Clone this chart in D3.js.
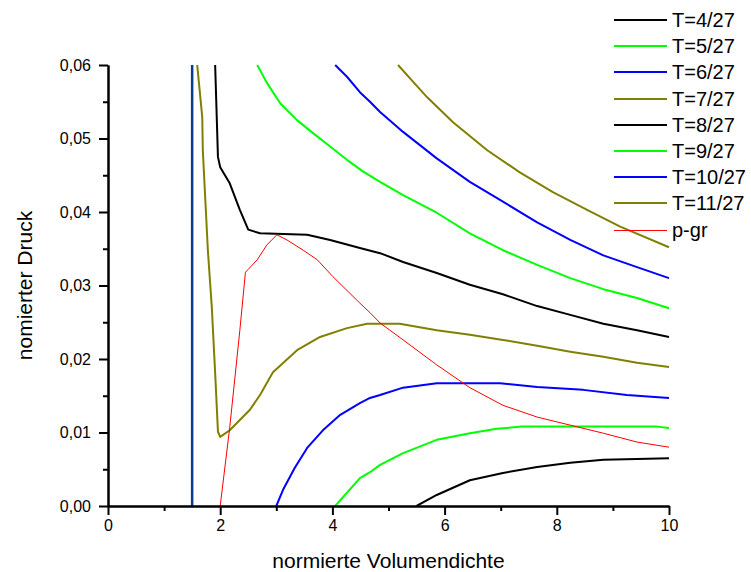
<!DOCTYPE html>
<html>
<head>
<meta charset="utf-8">
<script src="https://cdn.jsdelivr.net/npm/d3@7"></script>
<style>
  body { margin: 0; background: #fff; }
  text { font-family: "Liberation Sans", Arial, sans-serif; }
</style>
</head>
<body>
<div id="chart"></div>
<script>
// Data: [normierte Volumendichte, normierter Druck]
const t4 = [[5.5,0],[5.86,0.0015],[6.45,0.0035],[7.04,0.0045],[7.65,0.0053],[8.24,0.0059],[8.83,0.0063],[9.43,0.0064],[10,0.0065]];
const t5 = [[4.05,0],[4.49,0.0038],[4.67,0.0046],[4.85,0.0056],[5.26,0.0072],[5.86,0.009],[6.45,0.0099],[6.93,0.0105],[7.38,0.0108],[9.79,0.0108],[10,0.0106]];
const t6 = [[3.0,0],[3.12,0.0022],[3.33,0.0052],[3.55,0.0079],[3.83,0.0103],[4.14,0.0124],[4.49,0.014],[4.67,0.0147],[4.85,0.0151],[5.26,0.0161],[5.86,0.0167],[6.99,0.0167],[7.65,0.0162],[8.47,0.0158],[9.25,0.0151],[10,0.0147]];
const t7 = [[1.59,0.06],[1.68,0.0529],[1.69,0.0484],[1.78,0.0348],[1.85,0.0271],[1.91,0.0181],[1.96,0.0101],[2.0,0.0094],[2.17,0.0103],[2.53,0.0131],[2.71,0.0151],[2.94,0.0182],[3.37,0.0212],[3.78,0.023],[4.26,0.0242],[4.62,0.0248],[5.2,0.0248],[5.86,0.0239],[6.45,0.0233],[7.04,0.0226],[7.65,0.0218],[8.24,0.021],[8.83,0.0203],[9.43,0.0195],[10,0.0189]];
const t8 = [[1.91,0.06],[1.96,0.0475],[2.0,0.0461],[2.17,0.0439],[2.35,0.0403],[2.5,0.0376],[2.71,0.0371],[3.55,0.0369],[3.96,0.0362],[4.49,0.0351],[4.85,0.0344],[5.26,0.0332],[5.86,0.0317],[6.45,0.0301],[7.04,0.0288],[7.65,0.0272],[8.24,0.026],[8.83,0.0248],[9.43,0.0239],[10,0.023]];
const t9 = [[2.66,0.06],[2.83,0.0576],[3.07,0.0548],[3.37,0.0525],[3.66,0.0507],[3.96,0.0489],[4.26,0.0471],[4.55,0.0455],[4.85,0.0441],[5.26,0.0423],[5.86,0.0399],[6.45,0.0371],[7.04,0.0348],[7.65,0.0328],[8.24,0.031],[8.83,0.0295],[9.43,0.0283],[10,0.0269]];
const t10 = [[4.05,0.06],[4.26,0.0584],[4.49,0.0563],[4.67,0.055],[4.85,0.0536],[5.26,0.0509],[5.86,0.0473],[6.45,0.0441],[7.04,0.0414],[7.65,0.0386],[8.24,0.0362],[8.83,0.0341],[9.43,0.0325],[10,0.031]];
const t11 = [[5.17,0.06],[5.44,0.0577],[5.69,0.0556],[6.15,0.0522],[6.76,0.0484],[7.34,0.0454],[7.93,0.0427],[8.54,0.0403],[9.13,0.038],[10,0.0352]];
const pgr = [[2.0,0],[2.17,0.0107],[2.35,0.0239],[2.45,0.0318],[2.5,0.0322],[2.66,0.0335],[2.83,0.0355],[3.01,0.0369],[3.19,0.0362],[3.48,0.0348],[3.73,0.0335],[4.01,0.0312],[4.49,0.0276],[4.67,0.0263],[4.85,0.0249],[5.26,0.0226],[5.86,0.0192],[6.45,0.0161],[7.04,0.0137],[7.65,0.0121],[8.24,0.011],[8.83,0.0099],[9.43,0.0087],[10,0.008]];
const asymptote = [[1.5,0],[1.5,0.06]];

const labels = ["T=4/27","T=5/27","T=6/27","T=7/27","T=8/27","T=9/27","T=10/27","T=11/27","p-gr"];
const colors = ["#000000","#00ff00","#0000ff","#808000","#000000","#00ff00","#0000ff","#808000","#ff0000"];
const seriesData = [t4, t5, t6, t7, t8, t9, t10, t11, pgr];

const xMajor = [0, 2, 4, 6, 8, 10];
const xMinor = [1, 3, 5, 7, 9];
const yMajor = [0, 0.01, 0.02, 0.03, 0.04, 0.05, 0.06];
const yMinor = [0.005, 0.015, 0.025, 0.035, 0.045, 0.055];

// Dimensions
const dims = { width: 751, height: 572, left: 108, right: 669, top: 65, bottom: 506 };

const svg = d3.select("#chart").append("svg")
  .attr("width", dims.width).attr("height", dims.height)
  .style("display", "block");

const xScale = d3.scaleLinear().domain([0, 10]).range([dims.left, dims.right]);
const yScale = d3.scaleLinear().domain([0, 0.06]).range([dims.bottom, dims.top]);

svg.append("clipPath").attr("id", "clip")
  .append("rect").attr("x", dims.left).attr("y", dims.top - 1)
  .attr("width", dims.right - dims.left + 1).attr("height", dims.bottom - dims.top + 1);

const line = d3.line().x(d => xScale(d[0])).y(d => yScale(d[1]));
const plot = svg.append("g").attr("clip-path", "url(#clip)");

plot.append("path").datum(asymptote)
  .attr("d", line).attr("fill", "none")
  .attr("stroke", "#0a3c8c").attr("stroke-width", 2.5);

seriesData.forEach((s, i) => {
  plot.append("path").datum(s)
    .attr("d", line).attr("fill", "none")
    .attr("stroke", colors[i])
    .attr("stroke-width", i === 8 ? 1 : 2)
    .attr("stroke-linejoin", "round");
});

// Axes
const fmt = d => d3.format(".2f")(d).replace(".", ",");

svg.append("g").attr("transform", `translate(0,${dims.bottom})`)
  .call(d3.axisBottom(xScale).tickValues(xMajor).tickSize(9).tickSizeOuter(0).tickPadding(5));
svg.append("g").attr("transform", `translate(0,${dims.bottom})`)
  .call(d3.axisBottom(xScale).tickValues(xMinor).tickSize(5).tickSizeOuter(0).tickFormat(""));

svg.append("g").attr("transform", `translate(${dims.left},0)`)
  .call(d3.axisLeft(yScale).tickValues(yMajor).tickSize(9).tickSizeOuter(0).tickPadding(8).tickFormat(fmt));
svg.append("g").attr("transform", `translate(${dims.left},0)`)
  .call(d3.axisLeft(yScale).tickValues(yMinor).tickSize(5).tickSizeOuter(0).tickFormat(""));

svg.selectAll(".domain").attr("stroke", "#000").attr("stroke-width", 2);
svg.selectAll(".tick line").attr("stroke", "#000").attr("stroke-width", 2);
svg.selectAll(".tick text")
  .attr("font-family", "'Liberation Sans', Arial, sans-serif")
  .attr("font-size", 16).attr("fill", "#000");

svg.append("text")
  .attr("x", (dims.left + dims.right) / 2).attr("y", 568)
  .attr("text-anchor", "middle").attr("font-size", 21)
  .text("normierte Volumendichte");

svg.append("text")
  .attr("transform", `translate(32,${(dims.top + dims.bottom) / 2}) rotate(-90)`)
  .attr("text-anchor", "middle").attr("font-size", 21)
  .text("nomierter Druck");

// Legend
const legend = svg.append("g");
labels.forEach((lab, i) => {
  const y = Math.round(20 + i * 26.2);
  const w = i === 8 ? 1 : 2;
  legend.append("line")
    .attr("x1", 614).attr("x2", 667)
    .attr("y1", w === 1 ? y + 0.5 : y).attr("y2", w === 1 ? y + 0.5 : y)
    .attr("stroke", colors[i]).attr("stroke-width", w);
  legend.append("text")
    .attr("x", 672).attr("y", y + 7)
    .attr("font-size", 20).attr("fill", "#000")
    .text(lab);
});
</script>
</body>
</html>
